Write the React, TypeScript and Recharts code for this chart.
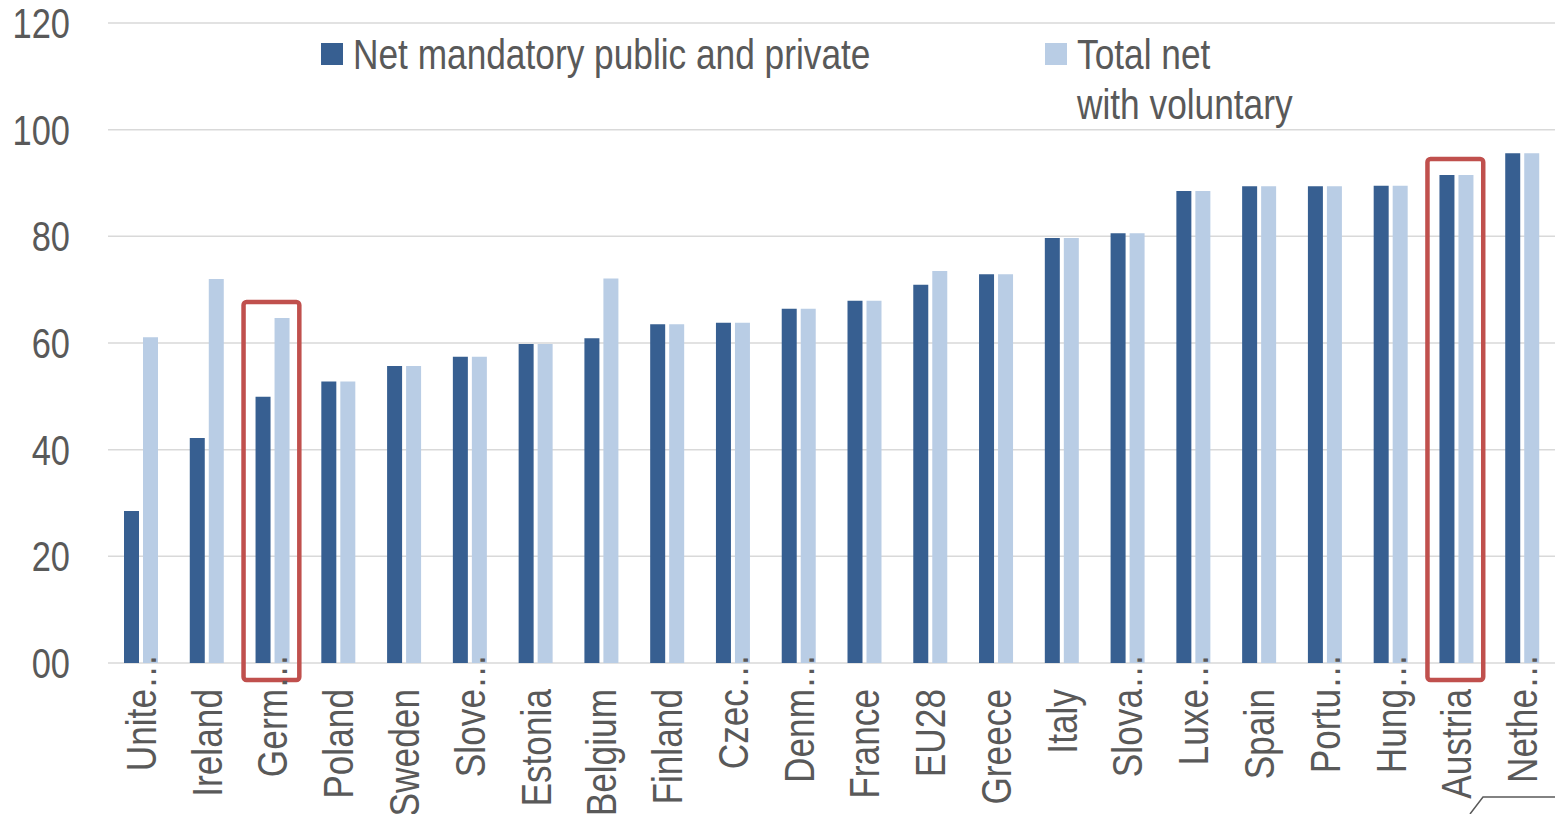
import { BarChart, Bar, XAxis, YAxis, CartesianGrid, Legend, ReferenceArea } from 'recharts';

const categories = [
  'United Kingdom', 'Ireland', 'Germany', 'Poland', 'Sweden', 'Slovenia', 'Estonia',
  'Belgium', 'Finland', 'Czech Republic', 'Denmark', 'France', 'EU28', 'Greece',
  'Italy', 'Slovakia', 'Luxembourg', 'Spain', 'Portugal', 'Hungary', 'Austria', 'Netherlands',
];

const tickLabels = [
  'Unite…', 'Ireland', 'Germ…', 'Poland', 'Sweden', 'Slove…', 'Estonia',
  'Belgium', 'Finland', 'Czec…', 'Denm…', 'France', 'EU28', 'Greece',
  'Italy', 'Slova…', 'Luxe…', 'Spain', 'Portu…', 'Hung…', 'Austria', 'Nethe…',
];

const mandatory = [
  28.5, 42.2, 49.9, 52.8, 55.7, 57.4, 59.8, 60.9, 63.5, 63.8, 66.4,
  67.9, 70.9, 72.9, 79.7, 80.6, 88.5, 89.4, 89.4, 89.5, 91.5, 95.6,
];

const withVoluntary = [
  61.1, 72.0, 64.7, 52.8, 55.7, 57.4, 59.8, 72.1, 63.5, 63.8, 66.4,
  67.9, 73.5, 72.9, 79.7, 80.6, 88.5, 89.4, 89.4, 89.5, 91.5, 95.6,
];

const yTicks = [0, 20, 40, 60, 80, 100, 120];
const yTickLabels = ['00', '20', '40', '60', '80', '100', '120'];

const highlighted = ['Germany', 'Austria'];

const DARK = '#375F91';
const LIGHT = '#B9CDE5';
const RED = '#C0504D';
const TEXT = '#595959';
// no narrow font installed, so Liberation Sans squeezed to Arial Narrow width
const FONT = "'Liberation Sans', Arial, sans-serif";
const SQUEEZE = 0.82;

const chartData = categories.map((c, i) => ({
  name: c,
  mandatory: mandatory[i],
  voluntary: withVoluntary[i],
}));

const XTick = ({ x, y, index }: any) => {
  const label: string = tickLabels[index] ?? '';
  const base = label.replace('…', '');
  const cut = label.endsWith('…');
  const tf = `rotate(-90) scale(${SQUEEZE},1)`;
  return (
    <g transform={`translate(${x + 15},${y + 26})`}>
      <text transform={tf} textAnchor="end" fill={TEXT} fontSize={43} fontFamily={FONT}>
        {base}
      </text>
      {cut && (
        <text transform={tf} textAnchor="start" fill={TEXT} fontSize={43} fontFamily={FONT}>
          …
        </text>
      )}
    </g>
  );
};

const YTick = ({ x, y, payload }: any) => {
  const i = yTicks.indexOf(payload.value);
  return (
    <g transform={`translate(${x},${y})`}>
      <text
        transform={`scale(${SQUEEZE},1)`}
        textAnchor="end"
        dy="0.36em"
        fill={TEXT}
        fontSize={42}
        fontFamily={FONT}
      >
        {yTickLabels[i] ?? String(payload.value)}
      </text>
    </g>
  );
};

const legendText = {
  position: 'absolute' as const,
  top: 29,
  lineHeight: '50px',
  whiteSpace: 'nowrap' as const,
  transform: `scaleX(${SQUEEZE})`,
  transformOrigin: 'left top',
};

const LegendBox = () => (
  <div style={{ position: 'relative', width: 1555, height: 130, fontFamily: FONT, fontSize: 43, color: TEXT }}>
    <div style={{ position: 'absolute', left: 321, top: 43, width: 22, height: 22, background: DARK }} />
    <div style={{ ...legendText, left: 353 }}>Net mandatory public and private</div>
    <div style={{ position: 'absolute', left: 1045, top: 43, width: 22, height: 22, background: LIGHT }} />
    <div style={{ ...legendText, left: 1077 }}>
      Total net
      <br />
      with voluntary
    </div>
  </div>
);

const BoxShape = (props: any) => {
  const { x, y, width, height } = props;
  return (
    <rect
      x={x + 4}
      y={y}
      width={width - 10}
      height={height}
      rx={3}
      fill="none"
      stroke={RED}
      strokeWidth={4.5}
    />
  );
};

export default function App() {
  return (
    <div style={{ position: 'absolute', left: 0, top: 0, width: 1555, height: 814, background: '#fff' }}>
      <BarChart
        width={1555}
        height={814}
        data={chartData}
        margin={{ top: 23, right: 0, left: 0, bottom: 0 }}
        barSize={15}
        barGap={4}
      >
        <CartesianGrid horizontal vertical={false} stroke="#D9D9D9" strokeWidth={1.5} />
        <XAxis
          dataKey="name"
          height={151}
          interval={0}
          axisLine={false}
          tickLine={false}
          tickSize={0}
          tickMargin={0}
          tick={<XTick />}
        />
        <YAxis
          width={108}
          domain={[0, 120]}
          ticks={yTicks}
          axisLine={false}
          tickLine={false}
          tickSize={0}
          tickMargin={38}
          tick={<YTick />}
        />
        <Legend
          verticalAlign="middle"
          align="center"
          content={<LegendBox />}
          wrapperStyle={{ left: 0, top: 0, width: 1555, height: 130 }}
        />
        <Bar dataKey="mandatory" name="Net mandatory public and private" fill={DARK} isAnimationActive={false} />
        <Bar dataKey="voluntary" name="Total net with voluntary" fill={LIGHT} isAnimationActive={false} />
        {highlighted.map((h) => {
          const i = categories.indexOf(h);
          return (
            <ReferenceArea
              key={h}
              x1={h}
              x2={h}
              y1={-3.2}
              y2={Math.max(mandatory[i], withVoluntary[i]) + 3}
              ifOverflow="visible"
              shape={<BoxShape />}
            />
          );
        })}
      </BarChart>
      <svg width={1555} height={814} style={{ position: 'absolute', left: 0, top: 0, pointerEvents: 'none' }}>
        <polyline points="1470,814 1483,797 1555,797" fill="none" stroke={TEXT} strokeWidth={1.5} />
      </svg>
    </div>
  );
}
